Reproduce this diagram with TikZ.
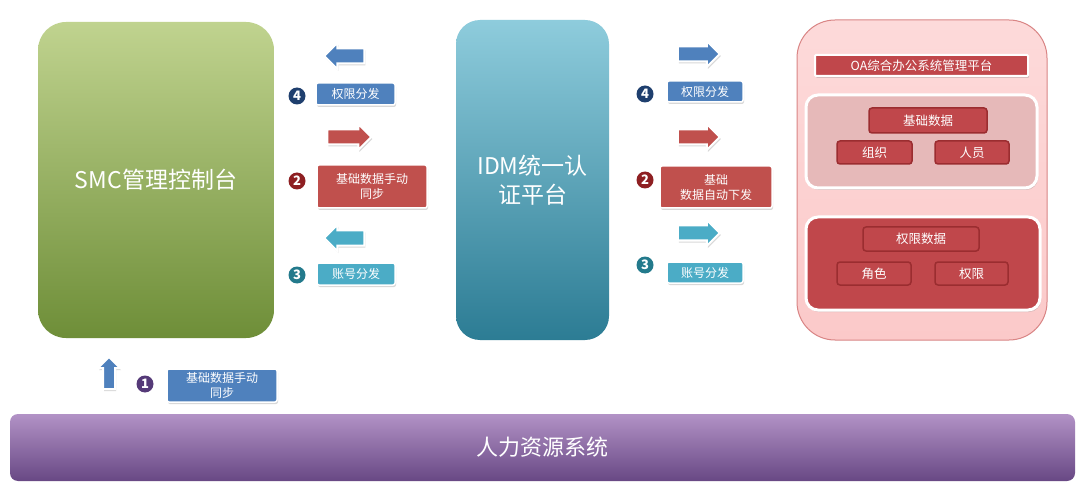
\documentclass[tikz,border=0pt]{standalone}
\usepackage{fontspec}
\setmainfont{Noto Sans CJK SC}
\usetikzlibrary{shapes.arrows,shadows}
\definecolor{blueA}{HTML}{4F81BD}
\definecolor{redA}{HTML}{C0504D}
\definecolor{cyanA}{HTML}{4BACC6}
\definecolor{cBlue}{HTML}{1F3F6E}
\definecolor{cRed}{HTML}{8E1F22}
\definecolor{cCyan}{HTML}{237A8C}
\definecolor{cPurple}{HTML}{553A78}
\definecolor{oaRed}{HTML}{C0474B}
\definecolor{oaDark}{HTML}{9B2D30}
\definecolor{oaPink}{HTML}{FBC9C9}
\definecolor{oaEdge}{HTML}{D98585}
\definecolor{panelPink}{HTML}{E6B9B9}
\tikzset{
  shd/.style={drop shadow={opacity=0.3,shadow xshift=1pt,shadow yshift=-2pt}},
  bigbox/.style={rounded corners=28pt,inner sep=0pt,text=white,align=center,font=\fontsize{23}{29}\selectfont},
  lbl/.style={rectangle,rounded corners=2pt,draw=white,line width=1.5pt,shd,text=white,align=center,inner sep=0pt,font=\fontsize{12}{15}\selectfont},
  blk/.style={single arrow,draw=white,line width=2pt,shd,inner xsep=0pt,inner ysep=6.5pt,text height=0pt,text depth=0pt,text width=0pt,minimum width=24pt,single arrow head extend=5.5pt,minimum height=42pt},
  num/.style={circle,fill=#1,text=white,inner sep=0pt,minimum size=17pt,font=\fontsize{13}{13}\selectfont\bfseries},
  oabox/.style={rectangle,rounded corners=3pt,fill=oaRed,draw=oaDark,line width=1.5pt,text=white,inner sep=0pt,font=\fontsize{12.5}{14}\selectfont},
  panel/.style={rectangle,rounded corners=12pt,draw=white,line width=3pt,shd,inner sep=0pt}
}
\begin{document}
\begin{tikzpicture}[x=1pt,y=-1pt]
\fill[white] (0,0) rectangle (1080,484);
\useasboundingbox (0,0) rectangle (1080,484);
% big boxes
\node[bigbox,top color={rgb,255:red,192;green,211;blue,143},bottom color={rgb,255:red,110;green,142;blue,56},
  minimum width=236pt,minimum height=316pt] (smc) at (156,180) {SMC管理控制台};
\node[bigbox,rounded corners=24pt,top color={rgb,255:red,142;green,204;blue,220},bottom color={rgb,255:red,44;green,124;blue,148},
  minimum width=153pt,minimum height=320pt] (idm) at (532.5,180) {IDM统一认\\证平台};
\node[bigbox,rounded corners=38pt,top color={rgb,255:red,253;green,218;blue,218},bottom color=oaPink,draw=oaEdge,line width=1pt,
  minimum width=250pt,minimum height=320pt] (oa) at (922,180) {};
% bottom bar
\node[rectangle,rounded corners=8pt,inner sep=0pt,text=white,font=\fontsize{22}{27}\selectfont,
  top color={rgb,255:red,178;green,146;blue,198},bottom color={rgb,255:red,104;green,72;blue,132},
  minimum width=1065pt,minimum height=67pt] (hr) at (542.5,447.5) {人力资源系统};
% OA content
\node[oabox,draw=white,line width=2pt,shd,minimum width=213pt,minimum height=21pt,rounded corners=1pt] (oat) at (921.5,65.5) {OA综合办公系统管理平台};
\node[panel,fill=panelPink,minimum width=231pt,minimum height=93pt] (p1) at (921.5,141.5) {};
\node[oabox,minimum width=118pt,minimum height=25pt] (jc) at (928,120.5) {基础数据};
\node[oabox,minimum width=75pt,minimum height=23pt] (zz) at (874.5,152.5) {组织};
\node[oabox,minimum width=74pt,minimum height=23pt] (ry) at (972,152.5) {人员};
\node[panel,fill=oaRed,minimum width=234pt,minimum height=93pt] (p2) at (923,263.5) {};
\node[oabox,minimum width=116pt,minimum height=24pt] (qx) at (921,239) {权限数据};
\node[oabox,minimum width=74pt,minimum height=23pt] (js) at (874,273.5) {角色};
\node[oabox,minimum width=73pt,minimum height=23pt] (qq) at (971.5,273.5) {权限};
% left column
\node[blk,fill=blueA,shape border rotate=180,minimum height=40pt] (a4L) at (348,56) {};
\node[lbl,fill=blueA,minimum width=79pt,minimum height=22pt] (l4L) at (355.5,94) {权限分发};
\node[num=cBlue] (c4L) at (297,96) {4};
\node[blk,fill=redA,minimum height=44pt] (a2L) at (345.5,137) {};
\node[lbl,fill=redA,minimum width=110pt,minimum height=43pt] (l2L) at (372,186.5) {基础数据手动\\同步};
\node[num=cRed] (c2L) at (297,181) {2};
\node[blk,fill=cyanA,shape border rotate=180,minimum height=40pt] (a3L) at (348,238) {};
\node[lbl,fill=cyanA,minimum width=78pt,minimum height=22pt] (l3L) at (356,274) {账号分发};
\node[num=cCyan] (c3L) at (297,275) {3};
% right column
\node[blk,fill=blueA] (a4R) at (695,54) {};
\node[lbl,fill=blueA,minimum width=76pt,minimum height=21pt] (l4R) at (705,91.5) {权限分发};
\node[num=cBlue] (c4R) at (645,94) {4};
\node[blk,fill=redA] (a2R) at (695,137) {};
\node[lbl,fill=redA,minimum width=112pt,minimum height=42pt] (l2R) at (716,187) {基础\\数据自动下发};
\node[num=cRed] (c2R) at (645,180) {2};
\node[blk,fill=cyanA] (a3R) at (695,233) {};
\node[lbl,fill=cyanA,minimum width=76pt,minimum height=21pt] (l3R) at (705,272.5) {账号分发};
\node[num=cCyan] (c3R) at (645,265) {3};
% bottom left
\node[blk,fill=blueA,shape border rotate=90,inner xsep=5pt,inner ysep=5pt,minimum width=20pt,minimum height=32pt,single arrow head extend=5pt] (a1) at (109,376) {};
\node[num=cPurple] (c1) at (145,384) {1};
\node[lbl,fill=blueA,minimum width=110pt,minimum height=33pt] (l1) at (222,385.5) {基础数据手动\\同步};
\end{tikzpicture}
\end{document}
